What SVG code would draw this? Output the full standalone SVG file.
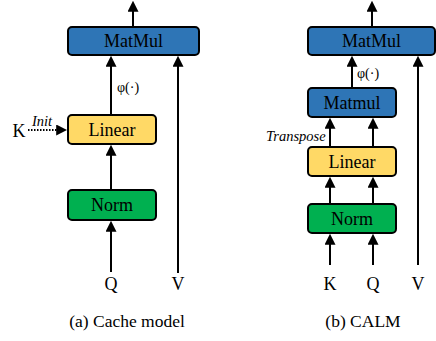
<svg xmlns="http://www.w3.org/2000/svg" width="436" height="341" viewBox="0 0 436 341" font-family="Liberation Serif, serif">
<style>
.box{stroke:#000;stroke-width:2}
.blue{fill:#2E75B6}.yellow{fill:#FFD966}.green{fill:#00B050}
text{font-family:'Liberation Serif',serif;fill:#000}
.t{font-size:18px;text-anchor:middle}
.it{font-size:14.5px;font-style:italic}
.sm{font-size:14px}
.c{font-size:17.5px;text-anchor:middle}
.ln{stroke:#000;stroke-width:2;fill:none;marker-end:url(#ah)}
.dot{stroke:#000;stroke-width:2;fill:none;stroke-dasharray:1.5 1.5;marker-end:url(#ah)}
</style>
<defs>
<marker id="ah" markerUnits="userSpaceOnUse" markerWidth="11" markerHeight="11" refX="8" refY="5" orient="auto" viewBox="0 0 10 10">
<path d="M0,0 L10,5 L0,10 z" fill="#000"/>
</marker>
</defs>
<g id="connectors">
<line class="ln" x1="133" y1="27" x2="133" y2="3"/>
<line class="ln" x1="111" y1="115" x2="111" y2="58"/>
<line class="ln" x1="178" y1="273" x2="178" y2="58"/>
<line class="dot" x1="28" y1="130" x2="65" y2="130"/>
<line class="ln" x1="111" y1="190" x2="111" y2="147"/>
<line class="ln" x1="111" y1="272" x2="111" y2="223"/>
<line class="ln" x1="372" y1="27" x2="372" y2="3"/>
<line class="ln" x1="352" y1="88" x2="352" y2="58"/>
<line class="ln" x1="418" y1="265" x2="418" y2="58"/>
<line class="ln" x1="330" y1="147" x2="330" y2="120"/>
<line class="ln" x1="373" y1="147" x2="373" y2="120"/>
<line class="ln" x1="330" y1="204" x2="330" y2="179"/>
<line class="ln" x1="373" y1="204" x2="373" y2="179"/>
<line class="ln" x1="330" y1="265" x2="330" y2="236"/>
<line class="ln" x1="373" y1="265" x2="373" y2="236"/>
<text class="sm" x="117" y="92">φ(·)</text>
<text class="it" x="32" y="126">Init</text>
<text class="sm" x="357" y="78">φ(·)</text>
<text class="it" x="266" y="141">Transpose</text>
</g>
<g id="a-matmul"><rect class="box blue" x="68" y="27" width="131" height="28" rx="4"/><text class="t" x="133.5" y="47">MatMul</text></g>
<g id="a-linear"><rect class="box yellow" x="68" y="115" width="88" height="29" rx="4"/><text class="t" x="112" y="136">Linear</text></g>
<g id="a-norm"><rect class="box green" x="68" y="190" width="88" height="30" rx="4"/><text class="t" x="112" y="211">Norm</text></g>
<g id="a-K"><text class="t" x="19" y="137">K</text></g>
<g id="a-Q"><text class="t" x="111" y="290">Q</text></g>
<g id="a-V"><text class="t" x="178" y="290">V</text></g>
<g id="b-matmul"><rect class="box blue" x="308" y="27" width="127" height="28" rx="4"/><text class="t" x="371.5" y="47">MatMul</text></g>
<g id="b-matmul2"><rect class="box blue" x="308" y="88" width="88" height="29" rx="4"/><text class="t" x="352" y="109">Matmul</text></g>
<g id="b-linear"><rect class="box yellow" x="308" y="147" width="88" height="29" rx="4"/><text class="t" x="352" y="168">Linear</text></g>
<g id="b-norm"><rect class="box green" x="308" y="204" width="88" height="29" rx="4"/><text class="t" x="352" y="225">Norm</text></g>
<g id="b-K"><text class="t" x="330" y="290">K</text></g>
<g id="b-Q"><text class="t" x="373" y="290">Q</text></g>
<g id="b-V"><text class="t" x="418" y="290">V</text></g>
<text class="c" x="127" y="327">(a) Cache model</text>
<text class="c" x="363" y="327">(b) CALM</text>
</svg>
